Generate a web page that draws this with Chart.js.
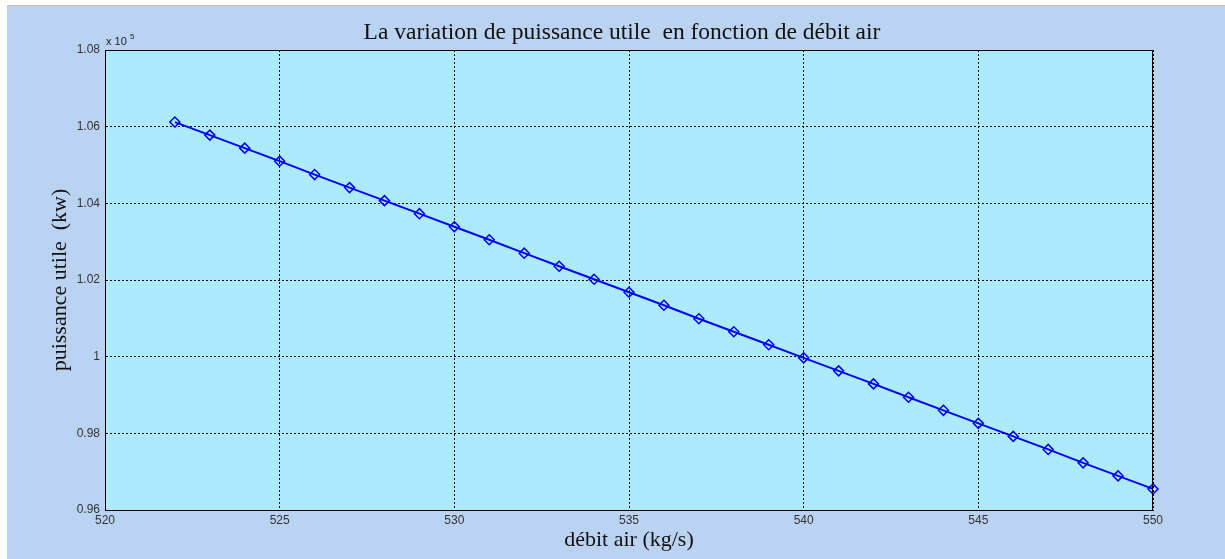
<!DOCTYPE html>
<html>
<head>
<meta charset="utf-8">
<title>puissance utile</title>
<script src="https://cdn.jsdelivr.net/npm/chart.js@4.4.1/dist/chart.umd.min.js"></script>
<style>
  html, body { margin: 0; padding: 0; background: #ffffff; }
  #wrap { width: 1225px; height: 559px; position: relative; }
</style>
</head>
<body>
<div id="wrap"><canvas id="myChart" width="1225" height="559"></canvas></div>
<script>
// débit air (kg/s)
const debitAir = [522, 523, 524, 525, 526, 527, 528, 529, 530, 531, 532, 533, 534, 535,
  536, 537, 538, 539, 540, 541, 542, 543, 544, 545, 546, 547, 548, 549, 550];

// puissance utile (kw)
const puissanceUtile = [106120, 105780, 105440, 105100, 104750, 104410, 104070, 103730,
  103390, 103050, 102700, 102360, 102020, 101680, 101340, 100990, 100650, 100310,
  99970, 99630, 99290, 98940, 98600, 98260, 97920, 97580, 97230, 96890, 96550];

const xTicks = [520, 525, 530, 535, 540, 545, 550];
const yTicks = [96000, 98000, 100000, 102000, 104000, 106000, 108000];

const chartTitle = "La variation de puissance utile  en fonction de débit air";

const figColor = "#b9d3f1";
const axesColor = "#acebfc";
const lineColor = "#0000ff";
const serif = "'Liberation Serif', 'Times New Roman', serif";
const sans = "'Liberation Sans', Arial, sans-serif";

// figure background, plot background, frame, title and the x 10^5 label
const matlabLook = {
  id: "matlabLook",
  beforeDraw(chart) {
    const ctx = chart.ctx;
    const a = chart.chartArea;
    ctx.save();
    ctx.fillStyle = "#ffffff";
    ctx.fillRect(0, 0, chart.width, chart.height);
    ctx.fillStyle = figColor;
    ctx.fillRect(7, 7, chart.width - 7, chart.height - 7);
    ctx.fillStyle = "#c8c8c8";
    ctx.fillRect(7, 5, chart.width - 7, 2);
    ctx.fillStyle = axesColor;
    ctx.fillRect(a.left, a.top, a.right - a.left, a.bottom - a.top);
    ctx.restore();
  },
  afterDraw(chart) {
    const ctx = chart.ctx;
    const a = chart.chartArea;
    ctx.save();
    ctx.strokeStyle = "#000000";
    ctx.lineWidth = 1;
    ctx.strokeRect(a.left + 0.5, a.top + 0.5, a.right - a.left - 1, a.bottom - a.top);

    // title over the axes
    ctx.fillStyle = "#111111";
    ctx.font = "23.5px " + serif;
    ctx.textAlign = "center";
    ctx.textBaseline = "middle";
    ctx.fillText(chartTitle, (a.left + a.right) / 2 - 7, 33);

    ctx.fillStyle = "#222222";
    ctx.textAlign = "left";
    ctx.textBaseline = "alphabetic";
    ctx.font = "11px " + sans;
    ctx.fillText("x 10", a.left + 1, a.top - 5);
    ctx.font = "8px " + sans;
    ctx.fillText("5", a.left + 25, a.top - 11);
    ctx.restore();
  }
};

const points = debitAir.map((d, i) => ({ x: d, y: puissanceUtile[i] }));

const tickFont = { family: sans, size: 12 };
const titleFont = { family: serif, size: 22 };

new Chart(document.getElementById("myChart").getContext("2d"), {
  type: "line",
  data: {
    datasets: [{
      data: points,
      borderColor: lineColor,
      borderWidth: 2,
      backgroundColor: "transparent",
      pointStyle: "rectRot",
      pointRadius: 5,
      pointBorderWidth: 1.5,
      pointBorderColor: lineColor,
      pointBackgroundColor: "rgba(0,0,0,0)",
      tension: 0,
      fill: false,
      clip: false
    }]
  },
  options: {
    responsive: false,
    animation: false,
    layout: { padding: { top: 50, left: 8, right: 72, bottom: 0 } },
    plugins: {
      legend: { display: false },
      tooltip: { enabled: false },
      title: { display: false }
    },
    scales: {
      x: {
        type: "linear",
        min: 520,
        max: 550,
        afterBuildTicks: s => { s.ticks = xTicks.map(v => ({ value: v })); },
        afterFit: s => { s.height = 49; },
        ticks: { color: "#333333", font: tickFont, padding: 3, maxRotation: 0 },
        grid: { color: "#000000", lineWidth: 1, drawTicks: false },
        border: { display: true, color: "#000000", width: 1, dash: [2, 2] },
        title: {
          display: true,
          text: "débit air (kg/s)",
          color: "#111111",
          font: titleFont,
          padding: { top: 0, bottom: 6 }
        }
      },
      y: {
        min: 96000,
        max: 108000,
        afterBuildTicks: s => { s.ticks = yTicks.map(v => ({ value: v })); },
        afterFit: s => { s.width = 97; },
        ticks: {
          color: "#333333",
          font: tickFont,
          padding: 5,
          callback: v => String(Math.round(v / 100) / 1000)
        },
        grid: { color: "#000000", lineWidth: 1, drawTicks: false },
        border: { display: true, color: "#000000", width: 1, dash: [2, 2] },
        title: {
          display: true,
          text: "puissance utile  (kw)",
          color: "#111111",
          font: titleFont,
          padding: { top: 39, bottom: 0 }
        }
      }
    }
  },
  plugins: [matlabLook]
});
</script>
</body>
</html>
